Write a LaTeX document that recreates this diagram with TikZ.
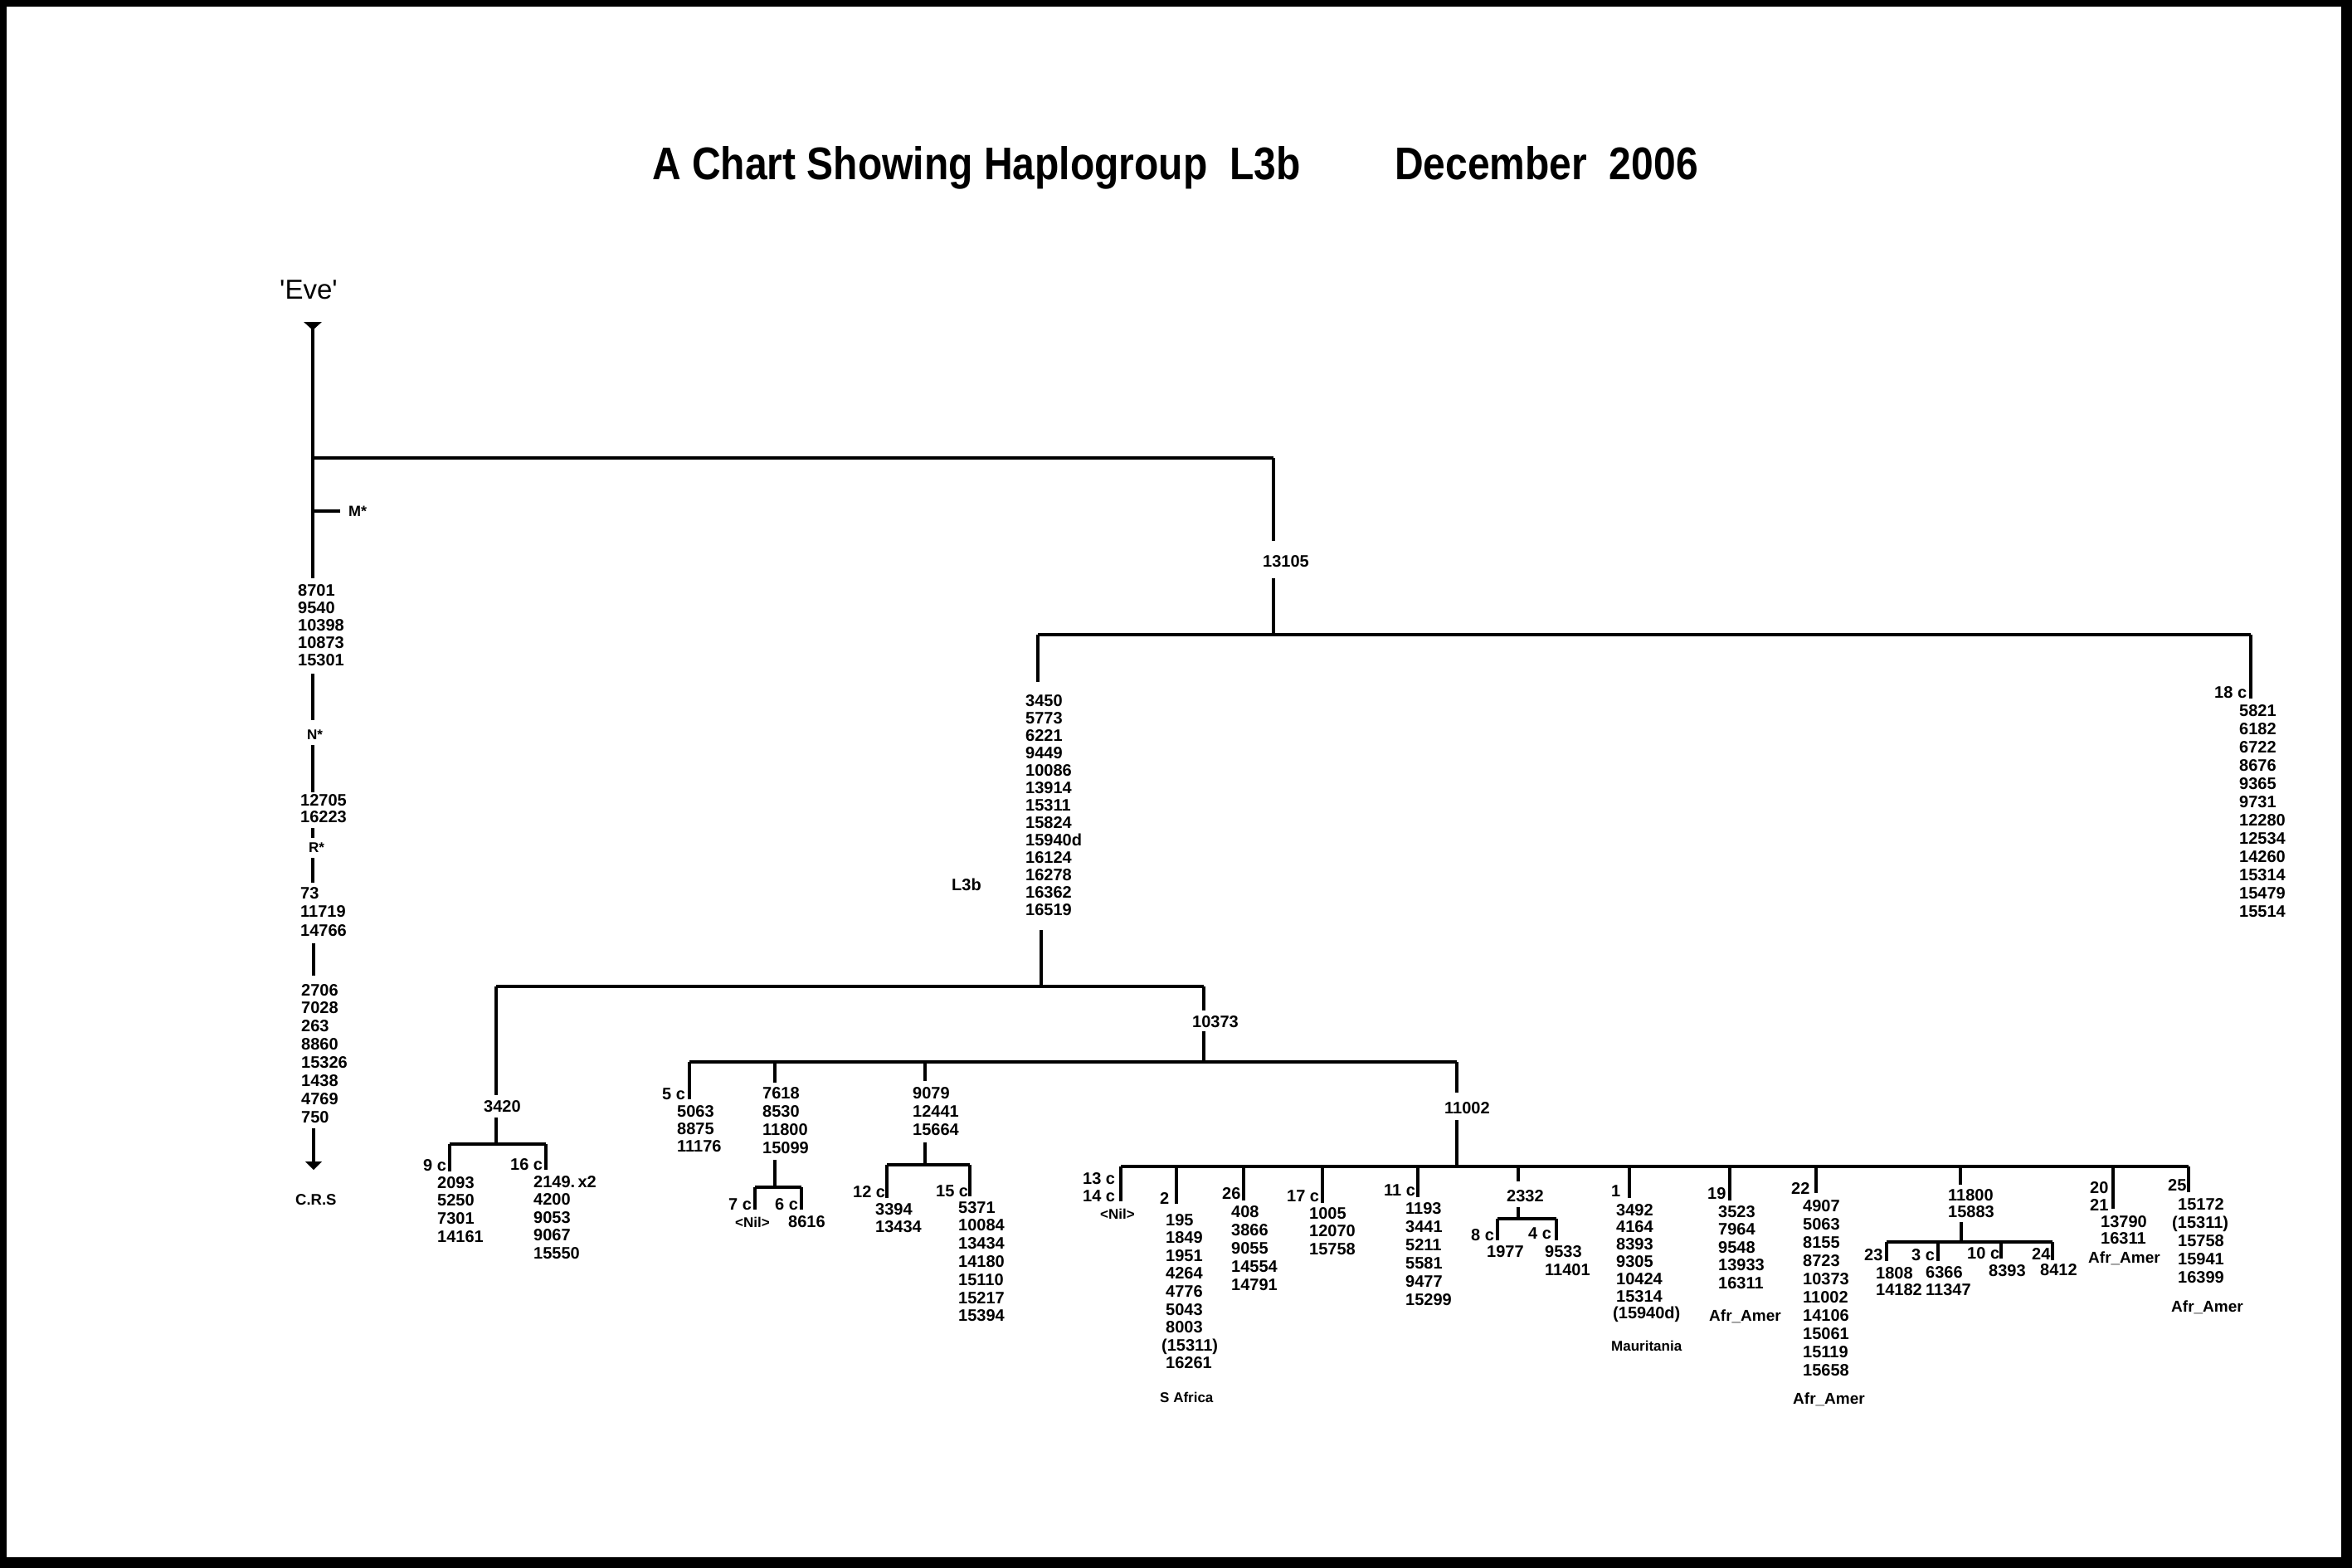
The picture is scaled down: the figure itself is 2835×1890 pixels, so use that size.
\documentclass[tikz,border=0pt]{standalone}
\usepackage{fontspec}
\usepackage{graphicx}
\newfontfamily\arial{Liberation Sans}
\newcommand\nf{\arial\bfseries\fontsize{20}{21.5}\selectfont}
\newcommand\smf{\arial\bfseries\fontsize{17}{17}\selectfont}
\newcommand\titlef{\arial\bfseries\fontsize{48}{50}\selectfont}
\newcommand\numcol[2]{\fontsize{20}{#1}\selectfont\begin{tabular}[t]{@{}l@{}}#2\end{tabular}}
\begin{document}
\begin{tikzpicture}[x=1pt,y=-1pt,
  ln/.style={line width=3.3pt},
  t/.style={anchor=base west,inner sep=0pt,font=\nf},
  ts/.style={anchor=base west,inner sep=0pt,font=\smf},
  aa/.style={anchor=base west,inner sep=0pt,font=\arial\bfseries\fontsize{19}{19}\selectfont}]
\useasboundingbox (0,0) rectangle (2835,1890);
\fill[black] (0,0) rectangle (2835,1890);
\fill[white] (8,8) rectangle (2822,1877);

% title
\node[t,font=\titlef] (title) at (786,216) {\scalebox{1}[1.15]{A Chart Showing Haplogroup\ \ L3b}};
\node[t,font=\titlef] (date) at (1681,216) {\scalebox{1}[1.15]{December\ \ 2006}};

% Eve column
\node[anchor=base west,inner sep=0pt,font=\arial\fontsize{33}{35}\selectfont] (eve) at (337,360) {'Eve'};
\fill (366,388) coordinate (tri1) -- (388,388) -- (377,398) -- cycle;
\draw[ln] (377,388) coordinate (v0a) -- (377,697) coordinate (v0b);
\draw[ln] (377,552) coordinate (b0a) -- (1535,552) coordinate (b0b);
\draw[ln] (377,616) coordinate (m0a) -- (410,616) coordinate (m0b);
\node[ts,font=\arial\bfseries\fontsize{18}{18}\selectfont] (mstar) at (420,622) {M*};
\node[t] (g1) at (359,718) {\numcol{21}{8701\\9540\\10398\\10873\\15301}};
\draw[ln] (377,812) coordinate (v1a) -- (377,868) coordinate (v1b);
\node[ts] (nstar) at (370,891) {N*};
\draw[ln] (377,898) coordinate (v2a) -- (377,955) coordinate (v2b);
\node[t] (g2) at (362,971) {\numcol{20}{12705\\16223}};
\draw[ln] (377,998) coordinate (v3a) -- (377,1010) coordinate (v3b);
\node[ts] (rstar) at (372,1027) {R*};
\draw[ln] (377,1034) coordinate (v4a) -- (377,1064) coordinate (v4b);
\node[t] (g3) at (362,1083) {\numcol{22.5}{73\\11719\\14766}};
\draw[ln] (378,1137) coordinate (v5a) -- (378,1176) coordinate (v5b);
\node[t] (g4) at (363,1200) {\numcol{21.9}{2706\\7028\\263\\8860\\15326\\1438\\4769\\750}};
\draw[ln] (378,1360) coordinate (v6a) -- (378,1401) coordinate (v6b);
\fill (368,1400) coordinate (tri2) -- (388,1400) -- (378,1410) -- cycle;
\node[anchor=base west,inner sep=0pt,font=\arial\bfseries\fontsize{18.5}{18.5}\selectfont] (crs) at (356,1452) {C.R.S};

% 13105
\draw[ln] (1535,552) coordinate (c0a) -- (1535,652) coordinate (c0b);
\node[t] (n13105) at (1522,683) {13105};
\draw[ln] (1535,697) coordinate (c1a) -- (1535,765) coordinate (c1b);
\draw[ln] (1251,765) coordinate (h1a) -- (2713,765) coordinate (h1b);
\draw[ln] (1251,765) coordinate (c2a) -- (1251,822) coordinate (c2b);
\node[t] (l3bmut) at (1236,851) {\numcol{21}{3450\\5773\\6221\\9449\\10086\\13914\\15311\\15824\\15940d\\16124\\16278\\16362\\16519}};
\node[t] (l3b) at (1147,1073) {L3b};
\draw[ln] (2713,765) coordinate (c3a) -- (2713,842) coordinate (c3b);
\node[t] (c18) at (2669,841) {18 c};
\node[t] (m18) at (2699,863) {\numcol{22}{5821\\6182\\6722\\8676\\9365\\9731\\12280\\12534\\14260\\15314\\15479\\15514}};

% L3b split
\draw[ln] (1255,1121) coordinate (c4a) -- (1255,1189) coordinate (c4b);
\draw[ln] (598,1189) coordinate (h2a) -- (1451,1189) coordinate (h2b);
\draw[ln] (598,1189) coordinate (c5a) -- (598,1320) coordinate (c5b);
\node[t] (n3420) at (583,1340) {3420};
\draw[ln] (598,1347) coordinate (c6a) -- (598,1379) coordinate (c6b);
\draw[ln] (542,1379) coordinate (h3a) -- (658,1379) coordinate (h3b);
\draw[ln] (542,1379) coordinate (c7a) -- (542,1412) coordinate (c7b);
\draw[ln] (658,1379) coordinate (c8a) -- (658,1410) coordinate (c8b);
\node[t] (c9) at (510,1411) {9 c};
\node[t] (m9) at (527,1432) {\numcol{21.7}{2093\\5250\\7301\\14161}};
\node[t] (c16) at (615,1410) {16 c};
\node[t] (m16) at (643,1431) {\numcol{21.5}{2149.\,x2\\4200\\9053\\9067\\15550}};

% 10373
\draw[ln] (1451,1189) coordinate (c9a) -- (1451,1218) coordinate (c9b);
\node[t] (n10373) at (1437,1238) {10373};
\draw[ln] (1451,1243) coordinate (c10a) -- (1451,1280) coordinate (c10b);
\draw[ln] (831,1280) coordinate (h4a) -- (1756,1280) coordinate (h4b);
\draw[ln] (831,1280) coordinate (c11a) -- (831,1325) coordinate (c11b);
\node[t] (c5) at (798,1325) {5 c};
\node[t] (m5) at (816,1346) {\numcol{21}{5063\\8875\\11176}};
\draw[ln] (934,1280) coordinate (c12a) -- (934,1305) coordinate (c12b);
\node[t] (n7618) at (919,1324) {\numcol{22}{7618\\8530\\11800\\15099}};
\draw[ln] (934,1398) coordinate (c13a) -- (934,1431) coordinate (c13b);
\draw[ln] (910,1431) coordinate (h5a) -- (966,1431) coordinate (h5b);
\draw[ln] (910,1431) coordinate (c14a) -- (910,1458) coordinate (c14b);
\draw[ln] (966,1431) coordinate (c15a) -- (966,1458) coordinate (c15b);
\node[t] (c7) at (878,1458) {7 c};
\node[ts] (nil7) at (886,1479) {<Nil>};
\node[t] (c6) at (934,1458) {6 c};
\node[t] (m6) at (950,1479) {8616};
\draw[ln] (1115,1280) coordinate (c16a) -- (1115,1303) coordinate (c16b);
\node[t] (n9079) at (1100,1324) {\numcol{22}{9079\\12441\\15664}};
\draw[ln] (1115,1377) coordinate (c17a) -- (1115,1404) coordinate (c17b);
\draw[ln] (1069,1404) coordinate (h6a) -- (1169,1404) coordinate (h6b);
\draw[ln] (1069,1404) coordinate (c18a) -- (1069,1444) coordinate (c18b);
\draw[ln] (1169,1404) coordinate (c19a) -- (1169,1442) coordinate (c19b);
\node[t] (c12) at (1028,1443) {12 c};
\node[t] (m12) at (1055,1464) {\numcol{21}{3394\\13434}};
\node[t] (c15) at (1128,1442) {15 c};
\node[t] (m15) at (1155,1462) {\numcol{21.8}{5371\\10084\\13434\\14180\\15110\\15217\\15394}};

% 11002
\draw[ln] (1756,1280) coordinate (c20a) -- (1756,1317) coordinate (c20b);
\node[t] (n11002) at (1741,1342) {11002};
\draw[ln] (1756,1350) coordinate (c21a) -- (1756,1406) coordinate (c21b);
\draw[ln] (1351,1406) coordinate (h7a) -- (2638,1406) coordinate (h7b);
% 13c 14c
\draw[ln] (1351,1406) coordinate (d1a) -- (1351,1448) coordinate (d1b);
\node[t] (c13) at (1305,1427) {\numcol{21}{13 c\\14 c}};
\node[ts] (nil13) at (1326,1469) {<Nil>};
% 2
\draw[ln] (1418,1406) coordinate (d2a) -- (1418,1451) coordinate (d2b);
\node[t] (c2) at (1398,1451) {2};
\node[t] (m2) at (1405,1477) {\numcol{21.6}{195\\1849\\1951\\4264\\4776\\5043\\8003\\\hspace*{-5pt}(15311)\\16261}};
\node[ts] (safr) at (1398,1690) {S Africa};
% 26
\draw[ln] (1499,1406) coordinate (d3a) -- (1499,1447) coordinate (d3b);
\node[t] (c26) at (1473,1445) {26};
\node[t] (m26) at (1484,1467) {\numcol{22}{408\\3866\\9055\\14554\\14791}};
% 17c
\draw[ln] (1594,1406) coordinate (d4a) -- (1594,1450) coordinate (d4b);
\node[t] (c17) at (1551,1448) {17 c};
\node[t] (m17) at (1578,1469) {\numcol{21.5}{1005\\12070\\15758}};
% 11c
\draw[ln] (1709,1406) coordinate (d5a) -- (1709,1443) coordinate (d5b);
\node[t] (c11) at (1668,1441) {11 c};
\node[t] (m11) at (1694,1463) {\numcol{22}{1193\\3441\\5211\\5581\\9477\\15299}};
% 2332
\draw[ln] (1830,1406) coordinate (d6a) -- (1830,1424) coordinate (d6b);
\node[t] (n2332) at (1816,1448) {2332};
\draw[ln] (1830,1455) coordinate (d7a) -- (1830,1469) coordinate (d7b);
\draw[ln] (1805,1469) coordinate (h8a) -- (1876,1469) coordinate (h8b);
\draw[ln] (1805,1469) coordinate (d8a) -- (1805,1495) coordinate (d8b);
\draw[ln] (1876,1469) coordinate (d9a) -- (1876,1495) coordinate (d9b);
\node[t] (c8) at (1773,1495) {8 c};
\node[t] (m8) at (1792,1515) {1977};
\node[t] (c4) at (1842,1493) {4 c};
\node[t] (m4) at (1862,1515) {\numcol{22}{9533\\11401}};
% 1
\draw[ln] (1964,1406) coordinate (d10a) -- (1964,1444) coordinate (d10b);
\node[t] (c1) at (1942,1442) {1};
\node[t] (m1) at (1948,1465) {\numcol{20.8}{3492\\4164\\8393\\9305\\10424\\15314\\\hspace*{-4pt}(15940d)}};
\node[ts] (maur) at (1942,1628) {Mauritania};
% 19
\draw[ln] (2085,1406) coordinate (d11a) -- (2085,1447) coordinate (d11b);
\node[t] (c19) at (2058,1445) {19};
\node[t] (m19) at (2071,1467) {\numcol{21.5}{3523\\7964\\9548\\13933\\16311}};
\node[aa] (aa19) at (2060,1592) {Afr\_Amer};
% 22
\draw[ln] (2189,1406) coordinate (d12a) -- (2189,1438) coordinate (d12b);
\node[t] (c22) at (2159,1439) {22};
\node[t] (m22) at (2173,1460) {\numcol{22}{4907\\5063\\8155\\8723\\10373\\11002\\14106\\15061\\15119\\15658}};
\node[aa] (aa22) at (2161,1692) {Afr\_Amer};
% 11800
\draw[ln] (2363,1406) coordinate (d13a) -- (2363,1428) coordinate (d13b);
\node[t] (n11800) at (2348,1447) {\numcol{20}{11800\\15883}};
\draw[ln] (2364,1473) coordinate (d14a) -- (2364,1497) coordinate (d14b);
\draw[ln] (2274,1497) coordinate (h9a) -- (2474,1497) coordinate (h9b);
\draw[ln] (2274,1497) coordinate (d15a) -- (2274,1520) coordinate (d15b);
\node[t] (c23) at (2247,1519) {23};
\node[t] (m23) at (2261,1541) {\numcol{20}{1808\\14182}};
\draw[ln] (2336,1497) coordinate (d16a) -- (2336,1520) coordinate (d16b);
\node[t] (c3) at (2304,1519) {3 c};
\node[t] (m3) at (2321,1540) {\numcol{21}{6366\\11347}};
\draw[ln] (2412,1497) coordinate (d17a) -- (2412,1517) coordinate (d17b);
\node[t] (c10) at (2371,1517) {10 c};
\node[t] (m10) at (2397,1538) {8393};
\draw[ln] (2474,1497) coordinate (d18a) -- (2474,1519) coordinate (d18b);
\node[t] (c24) at (2449,1518) {24};
\node[t] (m24) at (2459,1537) {8412};
% 20 21
\draw[ln] (2547,1406) coordinate (d19a) -- (2547,1457) coordinate (d19b);
\node[t] (c20) at (2519,1438) {\numcol{21}{20\\21}};
\node[t] (m20) at (2532,1479) {\numcol{20}{13790\\16311}};
\node[aa] (aa20) at (2517,1522) {Afr\_Amer};
% 25
\draw[ln] (2638,1406) coordinate (d20a) -- (2638,1437) coordinate (d20b);
\node[t] (c25) at (2613,1435) {25};
\node[t] (m25) at (2625,1458) {\numcol{22}{15172\\\hspace*{-7pt}(15311)\\15758\\15941\\16399}};
\node[aa] (aa25) at (2617,1581) {Afr\_Amer};
\end{tikzpicture}
\end{document}
